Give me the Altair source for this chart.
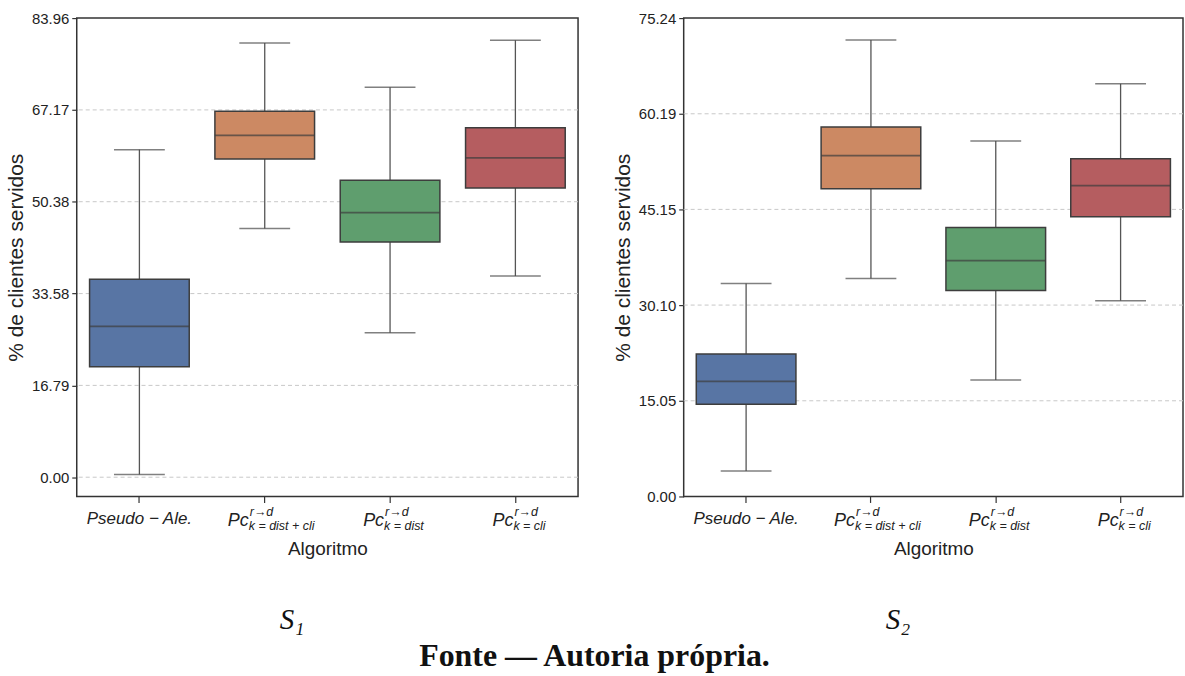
import altair as alt
import pandas as pd

# Algorithms on the x axis (keys) and their box colours
algos = ["pseudo", "dist_cli", "dist", "cli"]
box_colors = ["#5875a4", "#cc8963", "#5f9e6e", "#b55d60"]

# Scenario S1: whisker low, Q1, median, Q3, whisker high (% of served clients)
s1_lo = [0.5, 45.5, 26.4, 36.8]
s1_q1 = [20.2, 58.2, 43.0, 52.9]
s1_med = [27.6, 62.5, 48.4, 58.4]
s1_q3 = [36.2, 66.9, 54.3, 63.9]
s1_hi = [59.9, 79.4, 71.3, 79.9]
s1_ticks = [0.00, 16.79, 33.58, 50.38, 67.17, 83.96]

# Scenario S2
s2_lo = [4.0, 34.3, 18.3, 30.8]
s2_q1 = [14.5, 48.4, 32.4, 44.0]
s2_med = [18.1, 53.6, 37.1, 48.9]
s2_q3 = [22.4, 58.1, 42.3, 53.1]
s2_hi = [33.5, 71.8, 55.9, 64.9]
s2_ticks = [0.00, 15.05, 30.10, 45.15, 60.19, 75.24]

# Tick label pieces: base text, superscript, subscript, shift of the base's right edge
pc_sup = "r→d"
pc_sub = {"dist_cli": "k = dist + cli", "dist": "k = dist", "cli": "k = cli"}
pc_shift = {"dist_cli": -16, "dist": -6, "cli": -2}
pseudo_label = "Pseudo − Ale."

SANS_N = "Liberation Sans Narrow, Liberation Sans, Arial, sans-serif"
SANS = "Liberation Sans, Arial, sans-serif"
SERIF = "Liberation Serif, DejaVu Serif, serif"
H = 480


def panel(lo, q1, med, q3, hi, ticks, domain, width, tag):
    df = pd.DataFrame({"alg": algos, "lo": lo, "q1": q1, "med": med, "q3": q3, "hi": hi})
    xs = alt.Scale(domain=algos, paddingInner=0.2, paddingOuter=0.1)
    ys = alt.Scale(domain=domain, nice=False, zero=False)
    x_axis = alt.Axis(labels=False, ticks=True, tickSize=6, title="Algoritmo",
                      titleFont=SANS_N, titleFontSize=19, titleFontWeight="normal",
                      titleColor="#222", titlePadding=37, grid=False, domain=False)
    y_axis = alt.Axis(values=ticks, format=".2f", title="% de clientes servidos",
                      labelFont=SANS_N, labelFontSize=15, labelColor="#222",
                      titleFont=SANS, titleFontSize=21, titleFontWeight="normal",
                      titleColor="#222", titlePadding=5, tickSize=5,
                      grid=False, domain=False)
    x = alt.X("alg:N", scale=xs, axis=x_axis, title="Algoritmo")

    def yq(field):
        return alt.Y(field, type="quantitative", scale=ys, axis=y_axis,
                     title="% de clientes servidos")

    # dashed grid lines at the ticks lying inside the frame
    grid_vals = [t for t in ticks if domain[0] < t < domain[1]]
    grid = alt.Chart(pd.DataFrame({"g": grid_vals})).mark_rule(
        color="#c8c8c8", strokeWidth=1, strokeDash=[4, 3]).encode(y=yq("g"))

    base = alt.Chart(df)
    whisk_lo = base.mark_rule(color="#555", strokeWidth=1.3).encode(x=x, y=yq("lo"), y2="q1:Q")
    whisk_hi = base.mark_rule(color="#555", strokeWidth=1.3).encode(x=x, y=yq("q3"), y2="hi:Q")
    box = base.mark_bar(size=100, stroke="#3d3d3d", strokeWidth=1.5, opacity=1).encode(
        x=x, y=yq("q1"), y2="q3:Q",
        color=alt.Color("alg:N", scale=alt.Scale(domain=algos, range=box_colors), legend=None))
    median = base.mark_tick(size=100, thickness=1.8, color="#3d3d3d").encode(x=x, y=yq("med"))
    cap_lo = base.mark_tick(size=51, thickness=1.5, color="#4a4a4a").encode(x=x, y=yq("lo"))
    cap_hi = base.mark_tick(size=51, thickness=1.5, color="#4a4a4a").encode(x=x, y=yq("hi"))

    layers = [grid, whisk_lo, whisk_hi, box, median, cap_lo, cap_hi]

    # x tick labels drawn as text under each box
    pseudo = alt.Chart(pd.DataFrame({"alg": ["pseudo"], "t": [pseudo_label]})).mark_text(
        font=SANS_N, fontSize=17, fontStyle="italic", color="#222",
        baseline="alphabetic", align="center").encode(
        x=x, y=alt.value(H + 28), text="t:N")
    layers.append(pseudo)
    for key in ["dist_cli", "dist", "cli"]:
        d = pd.DataFrame({"alg": [key], "b": ["Pc"], "sp": [pc_sup], "sb": [pc_sub[key]]})
        c = alt.Chart(d)
        layers.append(c.mark_text(font=SANS_N, fontSize=18, fontStyle="italic", color="#222",
                                  baseline="alphabetic", align="right", dx=pc_shift[key]).encode(
            x=x, y=alt.value(H + 30), text="b:N"))
        layers.append(c.mark_text(font=SANS_N, fontSize=12.5, fontStyle="italic", color="#222",
                                  baseline="alphabetic", align="left", dx=pc_shift[key] + 1).encode(
            x=x, y=alt.value(H + 20), text="sp:N"))
        layers.append(c.mark_text(font=SANS_N, fontSize=12.5, fontStyle="italic", color="#222",
                                  baseline="alphabetic", align="left", dx=pc_shift[key]).encode(
            x=x, y=alt.value(H + 34), text="sb:N"))

    return alt.layer(*layers).properties(
        width=width, height=H,
        title=alt.TitleParams(tag, orient="bottom", anchor="middle", frame="bounds",
                              font=SERIF, fontSize=29, fontStyle="italic",
                              fontWeight="normal", color="#111", offset=47))


left = panel(s1_lo, s1_q1, s1_med, s1_q3, s1_hi, s1_ticks, [-3.52, 83.96], 503, "S₁")
right = panel(s2_lo, s2_q1, s2_med, s2_q3, s2_hi, s2_ticks, [0, 75.24], 501, "S₂")

chart = alt.hconcat(left, right, spacing=31).properties(
    title=alt.TitleParams("Fonte — Autoria própria.", orient="bottom", anchor="middle",
                          font=SERIF, fontSize=32, fontWeight="bold", color="#111", offset=6),
    padding={"left": 4, "top": 9, "right": 0, "bottom": 0},
).configure(background="white").configure_view(
    stroke="#333", strokeWidth=1.5
).configure_axis(tickColor="#333", tickWidth=1.2, labelPadding=3)

chart.save("out.html", embed_options={"renderer": "svg", "actions": False})
